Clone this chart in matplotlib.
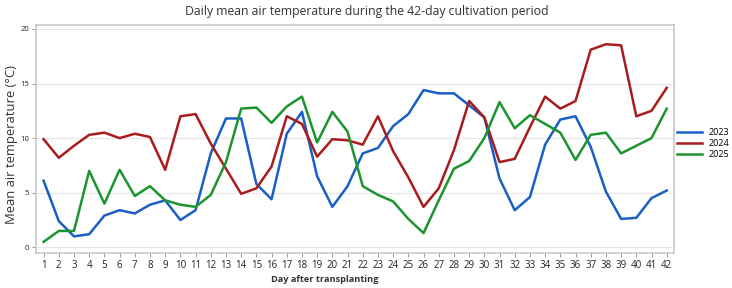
import matplotlib
matplotlib.use("Agg")
import matplotlib.pyplot as plt

days = list(range(1, 43))
t2023 = [6.1, 2.4, 1.0, 1.2, 2.9, 3.4, 3.1, 3.9, 4.3, 2.5, 3.4, 8.6, 11.8, 11.8, 5.8, 4.4,
         10.4, 12.4, 6.5, 3.7, 5.6, 8.6, 9.1, 11.1, 12.2, 14.4, 14.1, 14.1, 13.0, 11.9,
         6.3, 3.4, 4.6, 9.4, 11.7, 12.0, 9.2, 5.1, 2.6, 2.7, 4.5, 5.2]
t2024 = [9.9, 8.2, 9.3, 10.3, 10.5, 10.0, 10.4, 10.1, 7.1, 12.0, 12.2, 9.5, 7.2, 4.9, 5.4, 7.4,
         12.0, 11.3, 8.3, 9.9, 9.8, 9.4, 12.0, 8.8, 6.4, 3.7, 5.4, 8.9, 13.4, 11.9,
         7.8, 8.1, 11.0, 13.8, 12.7, 13.4, 18.1, 18.6, 18.5, 12.0, 12.5, 14.6]
t2025 = [0.5, 1.5, 1.5, 7.0, 4.0, 7.1, 4.7, 5.6, 4.3, 3.9, 3.7, 4.8, 7.8, 12.7, 12.8, 11.4,
         12.9, 13.8, 9.6, 12.4, 10.6, 5.6, 4.8, 4.2, 2.6, 1.3, 4.3, 7.2, 7.9, 10.0,
         13.3, 10.9, 12.1, 11.3, 10.5, 8.0, 10.3, 10.5, 8.6, 9.3, 10.0, 12.7]
series = [("2023", t2023, "#1a5fc6"), ("2024", t2024, "#a81c1e"), ("2025", t2025, "#1c9430")]
yticks = [0, 5, 10, 15, 20]

plt.rcParams['font.family'] = ['Open Sans', 'DejaVu Sans']

W, H = 732, 288
fig = plt.figure(figsize=(W / 100, H / 100), dpi=100)
ax = fig.add_axes([36 / W, 1 - 253.3 / H, (674.3 - 36) / W, (253.3 - 25) / H])

handles = []
for name, vals, col in series:
    h, = ax.plot(days, vals, color=col, lw=1.8, label=name)
    handles.append(h)

ax.set_xlim(0.5, 42.5)
ax.set_ylim(-0.55, 20.36)
ax.set_xticks(days)
ax.set_xticklabels([str(d) for d in days], fontsize=7, color="#222222")
ax.set_yticks(yticks)
ax.set_yticklabels([str(v) for v in yticks], fontsize=5.5, color="#222222")
ax.grid(axis='y', color="#e6e6e6", lw=0.8)
ax.set_axisbelow(True)
for s in ax.spines.values():
    s.set_color("#c8c8c8")
    s.set_linewidth(1.2)
ax.tick_params(axis='both', color="#999999", length=3, width=0.7, pad=2)

fig.text(325 / W, 1 - 279 / H, "Day after transplanting", ha='center', va='center',
         fontsize=6.6, fontweight='bold', color="#333333")
fig.text(12 / W, 1 - 144 / H, "Mean air temperature (°C)", ha='center', va='center',
         rotation=90, fontsize=9.4, color="#333333")
fig.text(367 / W, 1 - 11 / H, "Daily mean air temperature during the 42-day cultivation period",
         ha='center', va='center', fontsize=8.8, color="#333333")

fig.legend(handles=handles, loc='center left', bbox_to_anchor=(677 / W, 1 - 143.5 / H),
           frameon=False, fontsize=6.5, handlelength=2.8, handletextpad=0.75,
           labelspacing=0.25, borderpad=0, borderaxespad=0)

fig.savefig("out.png", dpi=100)
